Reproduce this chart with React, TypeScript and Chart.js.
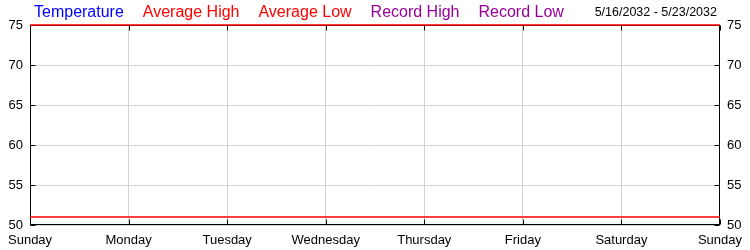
import React, { useEffect, useRef } from "react";
import { Chart, registerables } from "chart.js";

Chart.register(...registerables);

const days = ["Sunday", "Monday", "Tuesday", "Wednesday", "Thursday", "Friday", "Saturday", "Sunday"];
const temperature: (number | null)[] = [null, null, null, null, null, null, null, null];
const averageHigh = [75, 75, 75, 75, 75, 75, 75, 75];
const averageLow = [51, 51, 51, 51, 51, 51, 51, 51];
const recordHigh: (number | null)[] = [null, null, null, null, null, null, null, null];
const recordLow: (number | null)[] = [null, null, null, null, null, null, null, null];
const seriesNames = ["Temperature", "Average High", "Average Low", "Record High", "Record Low"];
const seriesColors = ["#0000ff", "#ff0000", "#ff0000", "#990099", "#990099"];
const dateRange = "5/16/2032 - 5/23/2032";
const yMin = 50;
const yMax = 75;
const yStep = 5;

const FONT = "Arial, 'Liberation Sans', sans-serif";

const framePlugin = {
  id: "frame",
  afterLayout(chart: any) {
    const lg = chart.legend;
    if (lg) {
      lg.left = 15;
    }
  },
  beforeDatasetsDraw(chart: any) {
    const { ctx, chartArea: a, scales } = chart;
    const L = Math.round(a.left) + 0.5;
    const R = Math.round(a.right) - 0.5;
    const T = Math.round(a.top) + 0.5;
    const B = Math.round(a.bottom) - 0.5;
    const tl = 5;
    ctx.save();
    ctx.strokeStyle = "#000";
    ctx.lineWidth = 1;
    ctx.beginPath();
    const xs = scales.x;
    xs.ticks.forEach((_t: any, i: number) => {
      const px = Math.round(xs.getPixelForTick(i)) + 0.5;
      ctx.moveTo(px, B);
      ctx.lineTo(px, B - tl);
      ctx.moveTo(px, T);
      ctx.lineTo(px, T + tl);
    });
    const ys = scales.y;
    ys.ticks.forEach((_t: any, i: number) => {
      const py = Math.round(ys.getPixelForTick(i)) + 0.5;
      ctx.moveTo(L, py);
      ctx.lineTo(L + tl, py);
      ctx.moveTo(R, py);
      ctx.lineTo(R - tl, py);
    });
    ctx.stroke();
    ctx.strokeRect(L, T, R - L, B - T);
    ctx.restore();
  },
  afterDraw(chart: any) {
    const { ctx, chartArea: a } = chart;
    const lg = chart.legend;
    const y = lg.top + 11 + 8;
    ctx.save();
    ctx.font = `12.5px ${FONT}`;
    ctx.fillStyle = "#000";
    ctx.textAlign = "right";
    ctx.textBaseline = "middle";
    ctx.fillText(dateRange, a.right - 3, y);
    ctx.restore();
  },
};

export default function App() {
  const ref = useRef<HTMLCanvasElement>(null);
  useEffect(() => {
    if (!ref.current) return;
    const mk = (i: number, data: (number | null)[]) => ({
      label: seriesNames[i],
      data,
      borderColor: seriesColors[i],
      backgroundColor: seriesColors[i],
      borderWidth: 1.5,
      pointRadius: 0,
      fill: false,
      tension: 0,
      clip: 3,
    });
    const chart = new Chart(ref.current, {
      type: "line",
      data: {
        labels: days,
        datasets: [
          mk(0, temperature),
          mk(1, averageHigh),
          mk(2, averageLow),
          mk(3, recordHigh),
          mk(4, recordLow),
        ],
      },
      options: {
        animation: false,
        responsive: false,
        layout: { padding: { top: -6, left: 0, right: 0, bottom: 0 } },
        plugins: {
          tooltip: { enabled: false },
          legend: {
            display: true,
            position: "top",
            align: "start",
            maxHeight: 31,
            labels: {
              boxWidth: 0,
              padding: 11,
              font: { size: 16, family: FONT },
              generateLabels: (c: any) => {
                const items = (Chart as any).defaults.plugins.legend.labels.generateLabels(c);
                return items.map((it: any, i: number) => ({
                  ...it,
                  fontColor: seriesColors[i],
                  lineWidth: 0,
                  fillStyle: "rgba(0,0,0,0)",
                  strokeStyle: "rgba(0,0,0,0)",
                }));
              },
            },
          },
        },
        scales: {
          x: {
            type: "category",
            position: "bottom",
            offset: false,
            grid: { display: true, color: "#d3d3d3", drawTicks: false },
            border: { display: false },
            ticks: {
              autoSkip: false,
              maxRotation: 0,
              padding: 8,
              color: "#000",
              font: { size: 13, family: FONT },
            },
            afterFit: (s: any) => {
              s.height = 25;
            },
          },
          y: {
            position: "left",
            min: yMin,
            max: yMax,
            grid: { display: true, color: "#d3d3d3", drawTicks: false },
            border: { display: false },
            ticks: {
              stepSize: yStep,
              padding: 7,
              color: "#000",
              font: { size: 13, family: FONT },
            },
            afterFit: (s: any) => {
              s.width = 30;
            },
          },
          y2: {
            position: "right",
            min: yMin,
            max: yMax,
            grid: { display: false, drawTicks: false },
            border: { display: false },
            ticks: {
              stepSize: yStep,
              padding: 7,
              color: "#000",
              font: { size: 13, family: FONT },
            },
            afterFit: (s: any) => {
              s.width = 30;
            },
          },
        },
      },
      plugins: [framePlugin],
    });
    return () => chart.destroy();
  }, []);
  return (
    <div style={{ position: "fixed", left: 0, top: 0, width: 750, height: 250 }}>
      <canvas ref={ref} width={750} height={250} style={{ display: "block" }} />
    </div>
  );
}
